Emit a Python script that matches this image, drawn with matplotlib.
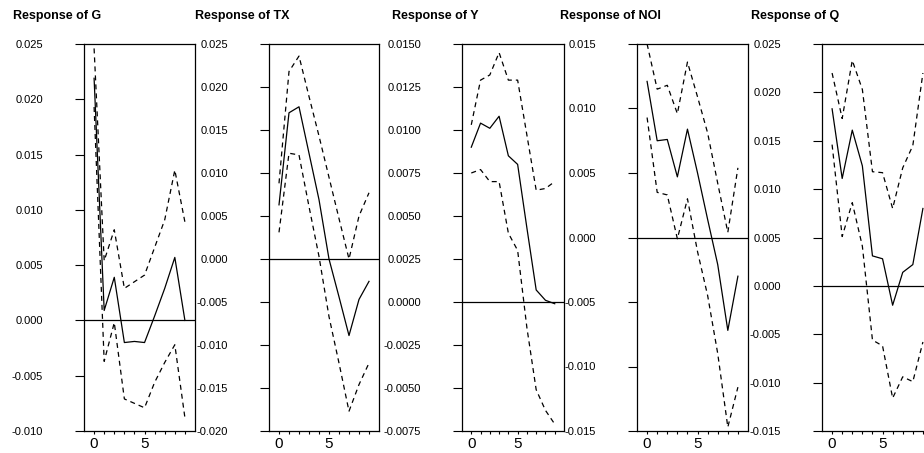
import numpy as np
import matplotlib
matplotlib.use('Agg')
import matplotlib.pyplot as plt
import matplotlib.transforms as mtransforms
from matplotlib import font_manager

# periods after the shock
periods = np.arange(10)

# Response of G
g_resp = [0.0219, 0.0009, 0.0039, -0.0020, -0.0019, -0.0020, 0.0004, 0.0029, 0.0057, 0.0000]
g_upper = [0.0246, 0.0054, 0.0082, 0.0029, 0.0035, 0.0041, 0.0066, 0.0091, 0.0136, 0.0089]
g_lower = [0.0193, -0.0037, -0.0002, -0.0071, -0.0075, -0.0079, -0.0056, -0.0038, -0.0022, -0.0088]

# Response of TX
tx_resp = [0.0063, 0.0170, 0.0177, 0.0123, 0.0069, 0.0000, -0.0044, -0.0089, -0.0047, -0.0026]
tx_upper = [0.0088, 0.0218, 0.0236, 0.0189, 0.0143, 0.0095, 0.0047, 0.0000, 0.0050, 0.0077]
tx_lower = [0.0031, 0.0123, 0.0121, 0.0061, 0.0003, -0.0067, -0.0121, -0.0177, -0.0146, -0.0121]

# Response of Y
y_resp = [0.0090, 0.0104, 0.0101, 0.0108, 0.0085, 0.0080, 0.0043, 0.0007, 0.0001, -0.0001]
y_upper = [0.0103, 0.0129, 0.0132, 0.0145, 0.0129, 0.0129, 0.0097, 0.0065, 0.0066, 0.0070]
y_lower = [0.0075, 0.0077, 0.0070, 0.0070, 0.0040, 0.0030, -0.0015, -0.0051, -0.0063, -0.0071]

# Response of NOI
noi_resp = [0.0121, 0.0075, 0.0076, 0.0047, 0.0084, 0.0050, 0.0014, -0.0021, -0.0072, -0.0030]
noi_upper = [0.0150, 0.0115, 0.0118, 0.0096, 0.0136, 0.0109, 0.0081, 0.0042, 0.0004, 0.0054]
noi_lower = [0.0093, 0.0035, 0.0033, -0.0001, 0.0030, -0.0011, -0.0045, -0.0090, -0.0147, -0.0116]

# Response of Q
q_resp = [0.0183, 0.0111, 0.0161, 0.0124, 0.0031, 0.0028, -0.0020, 0.0014, 0.0022, 0.0080]
q_upper = [0.0220, 0.0173, 0.0233, 0.0203, 0.0118, 0.0117, 0.0080, 0.0122, 0.0145, 0.0220]
q_lower = [0.0146, 0.0051, 0.0086, 0.0041, -0.0056, -0.0062, -0.0116, -0.0094, -0.0099, -0.0058]

titles = ['Response of G', 'Response of TX', 'Response of Y', 'Response of NOI', 'Response of Q']
responses = [g_resp, tx_resp, y_resp, noi_resp, q_resp]
uppers = [g_upper, tx_upper, y_upper, noi_upper, q_upper]
lowers = [g_lower, tx_lower, y_lower, noi_lower, q_lower]

# y axis: bottom, top, step, label format
y_bottoms = [-0.010, -0.020, -0.0075, -0.015, -0.015]
y_tops = [0.025, 0.025, 0.0150, 0.015, 0.025]
y_steps = [0.005, 0.005, 0.0025, 0.005, 0.005]
y_formats = ['%.3f', '%.3f', '%.4f', '%.3f', '%.3f']

# panel placement in pixels (the last panel runs off the right edge)
W, H = 924, 453
panel_left = [84, 269, 462, 637, 822]
panel_width = [111, 110, 102, 111, 111]
panel_top, panel_bottom = 44, 431

names = {f.name for f in font_manager.fontManager.ttflist}
narrow = 'Liberation Sans Narrow' if 'Liberation Sans Narrow' in names else 'Liberation Sans'
plt.rcParams['font.family'] = [narrow, 'DejaVu Sans']
plt.rcParams['axes.unicode_minus'] = False

fig = plt.figure(figsize=(W / 100, H / 100), dpi=100)

for i in range(5):
    ax = fig.add_axes([panel_left[i] / W, (H - panel_bottom) / H,
                       panel_width[i] / W, (panel_bottom - panel_top) / H])
    ax.plot(periods, uppers[i], color='black', lw=0.9, dashes=(4, 3.2))
    ax.plot(periods, lowers[i], color='black', lw=0.9, dashes=(4, 3.2))
    ax.plot(periods, responses[i], color='black', lw=0.9)
    ax.axhline(0, color='black', lw=0.9)

    ax.set_xlim(-1, 10)
    ax.set_ylim(y_bottoms[i], y_tops[i])

    n = int(round((y_tops[i] - y_bottoms[i]) / y_steps[i]))
    yt = np.linspace(y_bottoms[i], y_tops[i], n + 1)
    ylabels = []
    for t in yt:
        if abs(t) < 1e-12:
            t = 0.0
        ylabels.append(y_formats[i] % t)
    ax.set_yticks(yt, labels=ylabels, fontfamily=narrow, fontsize=8)
    ax.tick_params(axis='y', direction='out', length=6.5, width=0.8, pad=23)

    ax.set_xticks([0, 5], labels=['0', '5'], fontfamily='Liberation Sans', fontsize=11)
    ax.set_xticks([1, 2, 3, 4, 6, 7, 8, 9], minor=True)
    ax.tick_params(axis='x', which='both', direction='out', length=2.5, width=0.8, pad=1.5)

    for s in ax.spines.values():
        s.set_linewidth(0.9)

    trans = mtransforms.offset_copy(ax.transAxes, fig=fig, x=-27, y=28, units='dots')
    ax.text(0, 1, titles[i], transform=trans, ha='center', va='center',
            fontsize=9, fontweight='bold', fontfamily=narrow)

fig.savefig('out.png', dpi=100)
